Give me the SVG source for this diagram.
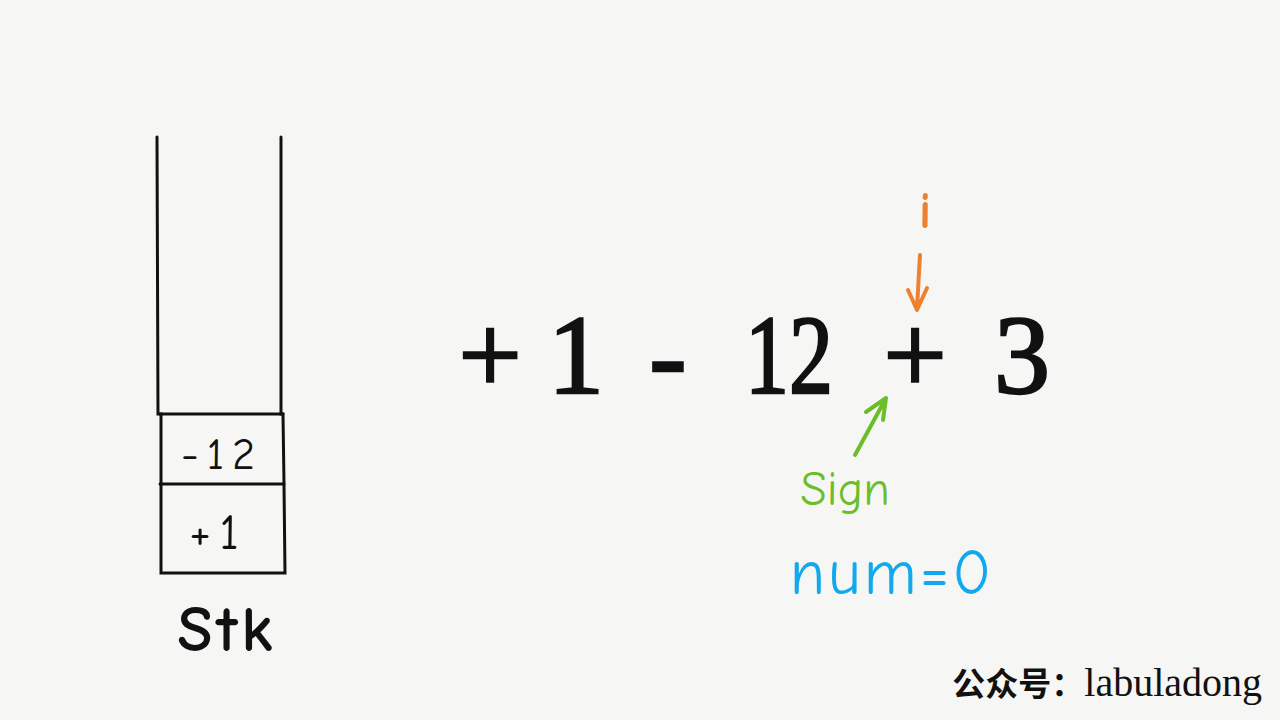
<svg xmlns="http://www.w3.org/2000/svg" width="1280" height="720" viewBox="0 0 1280 720">
<style>
.ln{stroke:#111;stroke-width:3;fill:none;stroke-linecap:round}
.hand{font-family:"Comic Neue","DejaVu Sans","Liberation Sans",sans-serif}
.expr{font-family:"Liberation Serif","DejaVu Serif",serif;font-size:112px;fill:#111;stroke:#111;stroke-width:2.5;text-anchor:middle}
</style>
<rect width="1280" height="720" fill="#f6f6f4"/>
<g id="stack">
<path class="ln" d="M157,137 L158,414 L161,414 L161,573 L285,573 L284,484 L283,414 L281,414 L281,137"/>
<line class="ln" x1="160" y1="414" x2="283" y2="414"/>
<line class="ln" x1="160" y1="484" x2="284" y2="484"/>
<text class="hand" x="222" y="469" font-size="44" letter-spacing="8" fill="#111" text-anchor="middle">-12</text>
<text class="hand" x="218" y="549" font-size="50" letter-spacing="8" fill="#111" text-anchor="middle">+1</text>
<text class="hand" x="227" y="651" font-size="64" letter-spacing="4" font-weight="bold" fill="#111" text-anchor="middle">Stk</text>
</g>
<g id="expression">
<text class="expr" x="490" y="393">+</text>
<text class="expr" x="576" y="393">1</text>
<text class="expr" x="668" y="393">-</text>
<text class="expr" x="789" y="393" textLength="88" lengthAdjust="spacingAndGlyphs">12</text>
<text class="expr" x="915" y="393">+</text>
<text class="expr" x="1022" y="393">3</text>
</g>
<g id="pointer-i">
<text class="hand" x="925" y="228" font-size="52" font-weight="bold" fill="#ee8130" text-anchor="middle">i</text>
</g>
<g id="label-sign">
<text class="hand" x="845" y="505" font-size="48" fill="#6cbd2a" text-anchor="middle">Sign</text>
</g>
<g id="label-num">
<text class="hand" x="892" y="594" font-size="64" letter-spacing="3" fill="#12a8ee" text-anchor="middle">num=0</text>
</g>
<g id="connectors">
<path d="M920,255 L917,308 M908,290 L917,310 L927,288" stroke="#ee8130" stroke-width="4" fill="none" stroke-linecap="round" stroke-linejoin="round"/>
<path d="M855,455 L885,400 M866,412 L886,398 L883,420" stroke="#6cbd2a" stroke-width="4" fill="none" stroke-linecap="round" stroke-linejoin="round"/>
</g>
<g id="watermark">
<text x="1262" y="696" font-size="40" fill="#111" text-anchor="end" font-family="'Liberation Serif','Noto Sans CJK SC',serif"><tspan font-size="33" font-family="'Noto Sans CJK SC',sans-serif" font-weight="bold">公众号：</tspan>labuladong</text>
</g>
</svg>
